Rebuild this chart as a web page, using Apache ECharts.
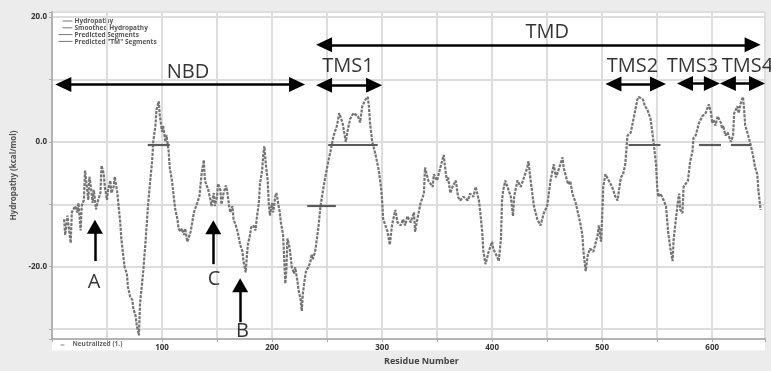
<!DOCTYPE html>
<html>
<head>
<meta charset="utf-8">
<script src="https://cdn.jsdelivr.net/npm/echarts@6/dist/echarts.min.js"></script>
<style>
  html, body { margin: 0; padding: 0; background: #ececec; }
  #chart { width: 771px; height: 371px; }
</style>
</head>
<body>
<div id="chart"></div>
<script>
// Hydropathy profile: [residue number, hydropathy value]
const hydropathy = [
  [11,-12.4],[12,-14.9],[14,-11.8],[15,-13.4],[17,-16.2],[18,-11.3],[21,-10.3],[23,-11.3],[24,-9.8],[26,-14.2],
  [27,-10.3],[29,-9.3],[30,-4.6],[32,-7.7],[33,-9.3],[34,-5.6],[35,-6.7],[37,-9.8],[38,-7.7],[40,-10.8],
  [42,-9.3],[44,-8.2],[45,-3.8],[47,-5.1],[48,-7.2],[50,-9.3],[51,-7.7],[53,-6.2],[54,-8.2],[56,-7.2],
  [57,-5.6],[59,-7.7],[60,-9.3],[62,-12.9],[63,-15.5],[65,-18.6],[66,-20.1],[68,-21.1],[69,-23.2],[71,-24.8],
  [73,-25.3],[74,-26.8],[76,-27.9],[77,-29.4],[79,-31.0],[80,-25.9],[83,-20.6],[85,-16.0],[87,-10.8],[89,-6.7],
  [91,-3.1],[92,0.0],[94,2.6],[95,5.2],[97,6.5],[98,4.2],[100,1.6],[101,2.6],[103,0.0],[104,1.1],
  [106,-1.5],[107,-4.1],[109,-6.2],[111,-9.3],[112,-10.8],[114,-12.4],[115,-13.9],[117,-14.4],[118,-13.9],[120,-14.9],
  [121,-13.9],[123,-16.0],[124,-16.2],[126,-14.4],[127,-13.4],[129,-11.3],[132,-9.8],[134,-8.7],
  [136,-5.1],[138,-2.9],[139,-6.2],[141,-7.2],[142,-7.7],[144,-9.3],[145,-10.3],[147,-8.2],[148,-10.3],[150,-8.7],
  [151,-6.7],[153,-7.7],[154,-10.0],[156,-8.2],[158,-7.0],[159,-7.7],[161,-10.3],[162,-11.3],[164,-10.3],[165,-12.4],
  [167,-13.4],[168,-13.9],[170,-15.5],[171,-16.5],[173,-17.5],[174,-19.1],[176,-20.9],[177,-18.6],[178,-16.5],[180,-14.9],
  [181,-13.7],[183,-13.4],[185,-14.2],[186,-12.4],[188,-9.8],[189,-6.7],[191,-4.6],[192,-2.0],[193,-0.7],[194,-3.0],
  [196,-6.2],[197,-9.8],[198,-11.8],[200,-9.8],[201,-11.3],[203,-8.7],[204,-8.2],[206,-10.3],[207,-11.3],[208,-12.9],
  [210,-14.9],[211,-18.6],[212,-22.7],[213,-20.6],[214,-15.5],[216,-17.0],[217,-18.6],[218,-20.1],[220,-21.1],[221,-20.1],
  [223,-22.2],[224,-23.7],[226,-25.3],[227,-27.1],[228,-24.3],[230,-21.6],[231,-20.6],[233,-20.1],[235,-19.1],[236,-18.0],
  [237,-18.8],[239,-17.7],[240,-16.5],[242,-13.9],
  [244,-10.3],[247,-7.0],[250,-4.1],[253,-1.6],[256,1.0],[259,2.6],[261,4.6],[264,3.1],[267,0.0],[269,2.1],[271,3.7],
  [274,4.6],[278,4.1],[280,3.1],[282,5.7],[285,6.8],[287,7.2],[288,5.7],[289,3.1],[291,0.0],[294,-2.0],
  [297,-4.6],[299,-7.2],[300,-9.3],[301,-12.4],[305,-14.4],[307,-16.5],[309,-13.4],[312,-10.9],[314,-12.9],[317,-13.4],
  [319,-12.4],[321,-13.4],[323,-11.9],[326,-12.9],[329,-11.3],[330,-14.4],[332,-12.4],[335,-9.8],[338,-8.3],[339,-4.1],
  [342,-6.2],[346,-7.2],[347,-5.2],[350,-6.2],[353,-4.1],[356,-2.1],[358,-5.2],[359,-6.2],[360,-5.7],[362,-8.2],
  [364,-7.2],[367,-6.2],[369,-8.8],[371,-9.4],[374,-8.8],[378,-9.4],[380,-8.3],[383,-8.8],[385,-7.2],[388,-9.4],
  [389,-10.9],[391,-14.4],[392,-17.5],[394,-19.6],[397,-17.5],[399,-16.5],[400,-16.0],[401,-17.1],[405,-18.6],[406,-19.1],
  [408,-15.6],[409,-9.4],[410,-7.8],[412,-6.2],[414,-7.2],[417,-8.8],[419,-11.9],[420,-8.8],[423,-6.2],[426,-7.2],
  [429,-5.7],[432,-4.1],[433,-3.1],[435,-6.2],[438,-10.3],[441,-12.4],[444,-13.4],[447,-11.4],[450,-10.3],
  [453,-6.3],[456,-3.6],[458,-5.7],[460,-4.7],[464,-2.5],[465,-4.1],[469,-6.8],[471,-6.3],[473,-8.3],[476,-9.8],
  [478,-11.4],[480,-12.9],[482,-14.9],[483,-17.6],[485,-20.7],[487,-18.1],[489,-17.1],[492,-17.6],[496,-14.9],[497,-13.4],
  [499,-16.0],[500,-11.9],[501,-7.2],[503,-5.2],[506,-6.2],[509,-7.2],[512,-8.8],[514,-9.4],[517,-5.7],[519,-5.2],
  [521,-3.6],[523,1.0],[526,1.5],[529,4.1],[532,6.8],[533,7.2],[537,6.8],[539,5.7],[541,5.2],[544,3.7],
  [546,1.0],[547,-0.5],[549,-3.6],[550,-7.2],[551,-8.8],[553,-8.3],[556,-9.4],[558,-10.3],[559,-12.4],[560,-14.5],
  [562,-17.1],[564,-19.1],[565,-15.6],[567,-12.4],[569,-9.4],[570,-8.3],[571,-10.9],[573,-11.4],[574,-7.2],[578,-6.2],
  [580,-3.1],[582,-1.6],[583,0.6],[585,1.0],[588,3.0],[591,4.1],[594,4.6],[597,6.0],[599,4.6],[600,3.0],
  [601,3.6],[603,2.6],[605,4.1],[608,3.0],[609,2.1],[610,2.6],[612,1.0],[614,1.5],[617,0.0],[619,1.0],
  [620,4.6],[623,5.7],[624,4.6],[626,6.2],[628,7.2],[629,5.2],[630,2.6],[632,1.5],[635,-0.5],[637,-2.1],
  [639,-4.1],[641,-5.2],[642,-7.8],[644,-10.9]
];

// Predicted transmembrane segments (residue ranges and plotted level)
const tmStart = [87, 232, 251, 524, 588, 617];
const tmEnd   = [107, 258, 296, 553, 608, 635];
const tmLevel = [-0.5, -10.3, -0.5, -0.5, -0.5, -0.5];

// Domain spans shown as double-headed arrows
const domainNames = ['NBD', 'TMD', 'TMS1', 'TMS2', 'TMS3', 'TMS4'];
const domainFrom  = [3, 240, 240, 503, 568, 607];
const domainTo    = [230, 644, 300, 558, 607, 648];
const domainLevel = [9.2, 15.55, 9.05, 9.25, 9.35, 9.35];
const domainLabelX = [123.6, 450, 269, 527.6, 582.1, 632.1];
const domainLabelY = [11.2, 17.55, 12.05, 12.05, 12.05, 12.05];

// Marked residues (upward arrows)
const siteNames   = ['A', 'C', 'B'];
const siteResidue = [39, 146.6, 171];
const siteTip     = [-12.5, -12.6, -21.9];
const siteTail    = [-19.1, -19.6, -28.9];
const siteLabelX  = [38.2, 147.2, 173.1];
const siteLabelY  = [-22.5, -22.0, -30.3];

// Axes
const xMin = 0, xMax = 648, xStep = 50;
const xLabelValues = [100, 200, 300, 400, 500, 600];
const yMin = -31.6, yMax = 20.8;
const yLabelValues = [-20, 0, 20];

const legendRows = ['Hydropathy', 'Smoothed Hydropathy', 'Predicted Segments', 'Predicted "TM" Segments'];

const W = 771, H = 371;
const grid = { left: 52, right: 6, top: 12, bottom: 20.5 };
const pxPerRes = (W - grid.left - grid.right) / (xMax - xMin);
const pxPerUnit = (H - grid.top - grid.bottom) / (yMax - yMin);
const head = [15, 16];           // arrowhead width, length in px
const insetX = head[1] / 2 / pxPerRes;

const FONT = '"Open Sans", "Liberation Sans", sans-serif';

const chart = echarts.init(document.getElementById('chart'), null, { renderer: 'canvas' });

const labelData = domainNames.map((n, i) => ({ name: n, value: [domainLabelX[i], domainLabelY[i]] }))
  .concat(siteNames.map((n, i) => ({ name: n, value: [siteLabelX[i], siteLabelY[i]] })));

// gray frame around the white plotting area
const bandColor = '#ececec';
const frame = [
  { x: 0, y: 0, width: W, height: grid.top },
  { x: 0, y: 0, width: grid.left, height: H },
  { x: W - grid.right, y: 0, width: grid.right, height: H },
  { x: 0, y: H - grid.bottom, width: W, height: grid.bottom }
].map(r => ({ type: 'rect', z: -10, silent: true, shape: r, style: { fill: bandColor } }));

chart.setOption({
  animation: false,
  backgroundColor: '#ffffff',
  grid: { left: grid.left, right: grid.right, top: grid.top, bottom: grid.bottom, show: false },
  xAxis: {
    type: 'value', min: xMin, max: xMax, interval: xStep,
    name: 'Residue Number', nameLocation: 'middle', nameGap: 14,
    nameTextStyle: { fontSize: 9, fontWeight: 'bold', color: '#444', fontFamily: FONT, padding: [0, 0, 0, 26] },
    axisLine: { show: true, onZero: false, lineStyle: { color: '#b4b4b4', width: 2 } },
    axisTick: { show: true, length: 3, lineStyle: { color: '#aaa' } },
    axisLabel: { fontSize: 8, fontWeight: 'bold', color: '#333', margin: 5, fontFamily: FONT,
                 formatter: v => xLabelValues.includes(v) ? String(v) : '' },
    splitLine: { show: true, lineStyle: { color: '#dddddd', width: 2 } }
  },
  yAxis: {
    type: 'value', min: yMin, max: yMax, splitNumber: 5,
    name: 'Hydropathy (kcal/mol)', nameLocation: 'middle', nameGap: 31, nameRotate: 90,
    nameTextStyle: { fontSize: 8, fontWeight: 'bold', color: '#555', fontFamily: FONT },
    axisLine: { show: true, onZero: false, lineStyle: { color: '#b4b4b4', width: 2 } },
    axisTick: { show: true, length: 3, lineStyle: { color: '#aaa' } },
    axisLabel: { fontSize: 8, fontWeight: 'bold', color: '#333', margin: 5, fontFamily: FONT,
                 formatter: v => yLabelValues.includes(v) ? v.toFixed(1) : '' },
    splitLine: { show: true, lineStyle: { color: '#dddddd', width: 2 } }
  },
  series: [
    {
      name: 'Hydropathy', type: 'line', data: hydropathy, showSymbol: false, z: 3,
      lineStyle: { color: '#747474', width: 2.2, type: [3, 1.2] }
    },
    {
      name: 'TM segments', type: 'line', data: [], z: 4,
      markLine: {
        silent: true, symbol: 'none', label: { show: false },
        lineStyle: { color: '#5a5a5a', width: 2.2, type: 'solid' },
        data: tmStart.map((s, i) => [{ coord: [s, tmLevel[i]] }, { coord: [tmEnd[i], tmLevel[i]] }])
      }
    },
    {
      name: 'Domains', type: 'line', data: [], z: 5,
      markLine: {
        silent: true, symbol: ['triangle', 'triangle'], symbolSize: head, label: { show: false },
        lineStyle: { color: '#000', width: 2.5, type: 'solid' },
        itemStyle: { color: '#000' },
        data: domainFrom.map((f, i) => [
          { coord: [f + insetX, domainLevel[i]] },
          { coord: [domainTo[i] - insetX, domainLevel[i]] }
        ])
      }
    },
    {
      name: 'Sites', type: 'line', data: [], z: 5,
      markLine: {
        silent: true, symbol: ['none', 'triangle'], symbolSize: [16, 14], label: { show: false },
        lineStyle: { color: '#000', width: 2.5, type: 'solid' },
        itemStyle: { color: '#000' },
        data: siteResidue.map((r, i) => [
          { coord: [r, siteTail[i]] },
          { coord: [r, siteTip[i] - 7 / pxPerUnit] }
        ])
      }
    },
    {
      name: 'Labels', type: 'scatter', data: labelData, symbolSize: 0, z: 6, silent: true,
      label: { show: true, position: 'inside', formatter: p => p.name,
               fontSize: 20, color: '#000', fontFamily: FONT }
    }
  ],
  graphic: frame.concat([
    {
      type: 'group', left: 56, top: 18, silent: true,
      children: legendRows.map((t, i) => ({
        type: 'group', y: i * 6.8,
        children: [
          { type: 'line', shape: { x1: i < 2 ? 4 : 0, y1: 3, x2: 14, y2: 3 }, style: { stroke: '#777', lineWidth: 1 } },
          { type: 'text', x: 16, y: 0, style: { text: t, fontSize: 6.5, fill: '#555', fontFamily: FONT, fontWeight: 'bold' } }
        ]
      }))
    },
    {
      type: 'group', left: 58, top: 341, silent: true,
      children: [
        { type: 'line', shape: { x1: 0, y1: 4, x2: 4, y2: 4 }, style: { stroke: '#888', lineWidth: 1 } },
        { type: 'text', x: 12, y: 0, style: { text: 'Neutralized (1.)', fontSize: 6.5, fill: '#666', fontFamily: FONT, fontWeight: 'bold' } }
      ]
    }
  ])
});
</script>
</body>
</html>
